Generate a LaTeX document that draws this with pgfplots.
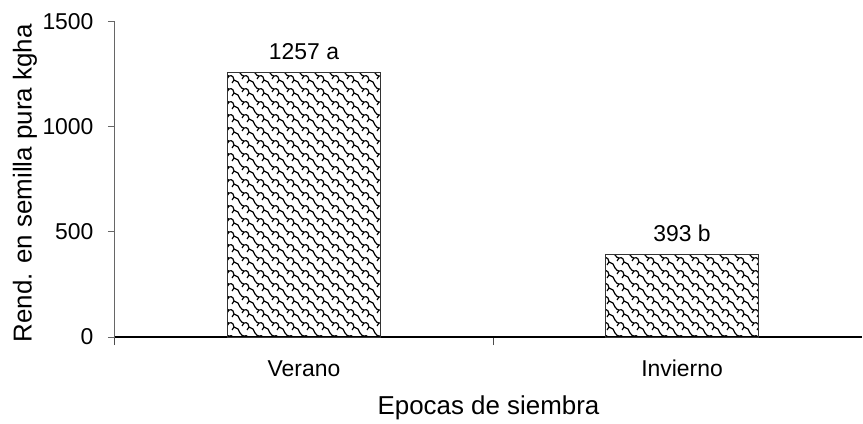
\documentclass[border=0pt]{standalone}
\usepackage{pgfplots}
\pgfplotsset{compat=1.18}
\usepackage{fontspec}
\setmainfont{Liberation Sans}
\usetikzlibrary{patterns}
\pgfdeclarepatternformonly{weave}{\pgfqpoint{-1bp}{-1bp}}{\pgfqpoint{16bp}{14bp}}{\pgfqpoint{15bp}{13bp}}{%
  \pgfsetlinewidth{1.2bp}%
  \pgfsetroundjoin
  \pgfpathmoveto{\pgfqpoint{0bp}{13bp}}%
  \pgfpathcurveto{\pgfqpoint{1bp}{11bp}}{\pgfqpoint{3bp}{10bp}}{\pgfqpoint{4bp}{10bp}}%
  \pgfpathcurveto{\pgfqpoint{6bp}{10bp}}{\pgfqpoint{7bp}{11bp}}{\pgfqpoint{8bp}{9bp}}%
  \pgfpathlineto{\pgfqpoint{9bp}{6bp}}%
  \pgfpathcurveto{\pgfqpoint{10bp}{5bp}}{\pgfqpoint{12bp}{5bp}}{\pgfqpoint{13bp}{4bp}}%
  \pgfpathlineto{\pgfqpoint{15bp}{0bp}}%
  \pgfpathmoveto{\pgfqpoint{4bp}{10bp}}%
  \pgfpathlineto{\pgfqpoint{2bp}{7bp}}%
  \pgfpathmoveto{\pgfqpoint{9bp}{6bp}}%
  \pgfpathlineto{\pgfqpoint{7bp}{3bp}}%
  \pgfusepath{stroke}%
}
\begin{document}
\begin{tikzpicture}
\begin{axis}[
  name=ax,
  scale only axis,
  width=747bp, height=315.3bp,
  xmin=-0.5, xmax=1.476,
  ymin=0, ymax=1500,
  axis x line*=bottom, axis y line*=left,
  x axis line style={-, black, line width=1.2bp},
  y axis line style={-, black!60, line width=1bp},
  xtick={0,1}, xticklabels={Verano, Invierno},
  major x tick style={draw=none},
  minor xtick={-0.5,0.5,1.5},
  minor x tick style={black!70, line width=1bp},
  ytick={0,500,1000,1500},
  yticklabels={0,500,1000,1500},
  y tick style={black!60, line width=1bp},
  tick align=outside,
  major tick length=7bp, minor tick length=8bp,
  tick label style={font=\fontsize{23}{27}\selectfont},
  yticklabel style={font=\fontsize{23}{27}\selectfont, xshift=-11bp},
  xticklabel style={yshift=-13bp, text height=16bp, text depth=4bp},
  xlabel={Epocas de siembra},
  ylabel={Rend. en semilla pura kgha},
  label style={font=\fontsize{26}{30}\selectfont},
  xlabel style={at={(axis description cs:0.5,0)}, anchor=center, yshift=-71bp},
  ylabel style={at={([xshift=-90bp,yshift=-4bp]axis description cs:0,0.5)}, anchor=center},
  ybar, bar width=153bp,
  point meta=explicit symbolic,
  nodes near coords,
  every node near coord/.append style={font=\fontsize{23}{27}\selectfont, anchor=south, yshift=9bp},
]
\addplot[draw=black!80, line width=0.8bp, pattern=weave, pattern color=black] coordinates {
  (0,1257) [1257 a]
  (1,393) [393 b]
};
\end{axis}
\pgfresetboundingbox
\path ([shift={(-115bp,-87bp)}]ax.south west) rectangle ++(863bp,424bp);
\end{tikzpicture}
\end{document}
